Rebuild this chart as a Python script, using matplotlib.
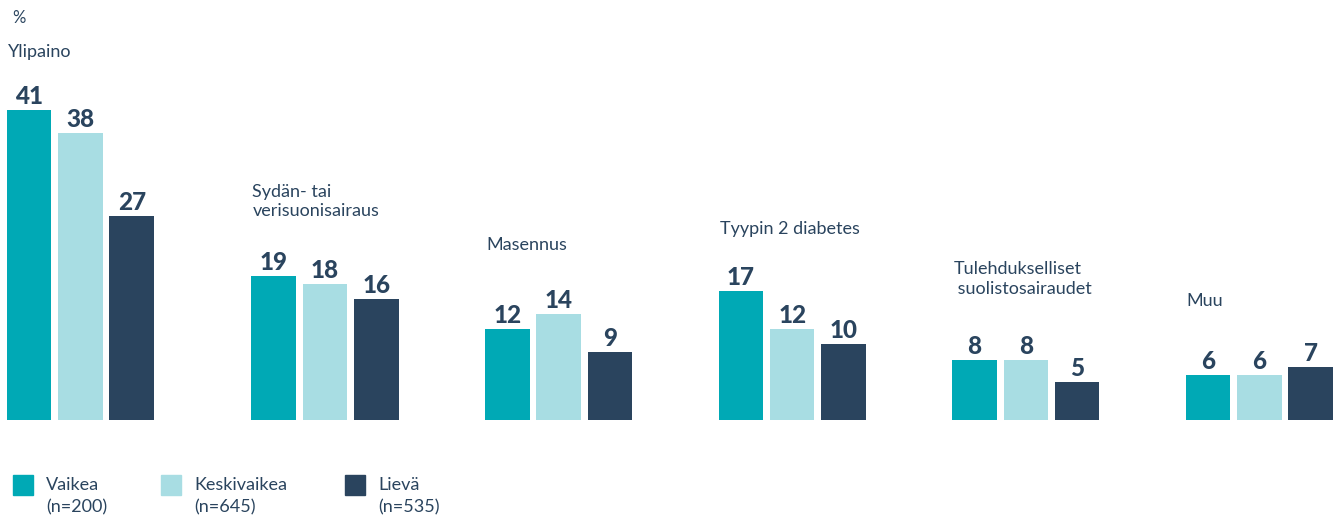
import numpy as np
import matplotlib.pyplot as plt
from matplotlib.patches import Rectangle

plt.rcParams['font.family'] = ['Lato', 'DejaVu Sans']

# Data
categories = ['Ylipaino', 'Sydän- tai\nverisuonisairaus', 'Masennus',
              'Tyypin 2 diabetes', 'Tulehdukselliset\n suolistosairaudet', 'Muu']
vaikea = [41, 19, 12, 17, 8, 6]
keskivaikea = [38, 18, 14, 12, 8, 6]
lieva = [27, 16, 9, 10, 5, 7]
series_names = ['Vaikea\n(n=200)', 'Keskivaikea\n(n=645)', 'Lievä\n(n=535)']
colors = ['#00A9B5', '#A8DDE3', '#2A445E']
text_col = '#2A445E'

W, H = 1337, 517
fig = plt.figure(figsize=(W / 100, H / 100), dpi=100)
ax = fig.add_axes([0, 0, 1, 1])

# pixel geometry of the reference
unit = 233.6          # px between group centres
ppv = 7.56            # px per percent
base = 420            # baseline px from top
x0 = 325 - unit       # centre of first regular group slot, px
ax.set_xlim(-x0 / unit, (W - x0) / unit)
ax.set_ylim(-(H - base) / ppv, base / ppv)
ax.axis('off')

# first group sits a little left of the regular grid
x = np.arange(len(categories)) + np.array([-11, 0, 0, 0, 0, 0]) / unit
pitch = 51.3 / unit
width = 44.5 / unit
# gap between bar top and category label bottom, px
label_gap = [50, 57, 61, 54, 63, 58]

all_series = [vaikea, keskivaikea, lieva]
for k, (vals, c) in enumerate(zip(all_series, colors)):
    pos = x + (k - 1) * pitch
    bars = ax.bar(pos, vals, width, color=c)
    for b, v in zip(bars, vals):
        ax.text(b.get_x() + b.get_width() / 2, v + 6 / ppv, str(v),
                ha='center', va='baseline', fontsize=17.5, fontweight='black',
                color=text_col)

# category labels above groups
for i, cat in enumerate(categories):
    top = max(vaikea[i], keskivaikea[i], lieva[i])
    ax.text(x[i] - pitch - width / 2 + 1 / unit, top + label_gap[i] / ppv, cat,
            ha='left', va='bottom', fontsize=13, color=text_col,
            linespacing=1.25)

fig.text(12 / W, 1 - 18 / H, '%', ha='left', va='center', fontsize=12,
         color=text_col)

# legend
leg_x = [13, 161, 345]
for lx, name, c in zip(leg_x, series_names, colors):
    fig.patches.append(Rectangle((lx / W, 1 - 495 / H), 20 / W, 20 / H,
                                 transform=fig.transFigure, color=c))
    fig.text((lx + 33) / W, 1 - 477 / H, name, ha='left', va='top',
             fontsize=13, color=text_col, linespacing=1.45)

plt.savefig('out.png', dpi=100)
